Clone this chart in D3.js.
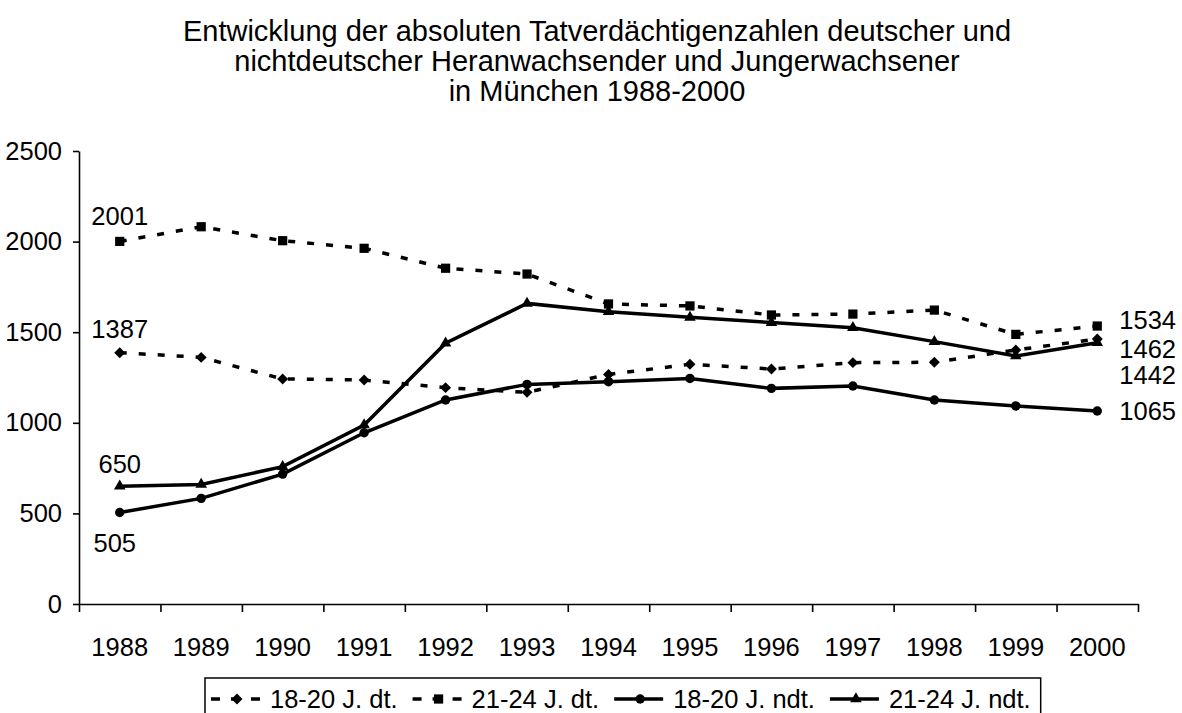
<!DOCTYPE html>
<html>
<head>
<meta charset="utf-8">
<script src="https://cdn.jsdelivr.net/npm/d3@7"></script>
<style>
    html, body { margin: 0; padding: 0; background: #ffffff; }
    svg { display: block; }
    text { font-family: "Liberation Sans", Arial, sans-serif; fill: #000000; }
</style>
</head>
<body>
<div id="chart"></div>
<script>
// Chart data
const titleLines = [
    'Entwicklung der absoluten Tatverdächtigenzahlen deutscher und',
    'nichtdeutscher Heranwachsender und Jungerwachsener',
    'in München 1988-2000'
];
const years = ['1988', '1989', '1990', '1991', '1992', '1993', '1994', '1995', '1996', '1997', '1998', '1999', '2000'];
const yTicks = [0, 500, 1000, 1500, 2000, 2500];
const seriesNames = ['18-20 J. dt.', '21-24 J. dt.', '18-20 J. ndt.', '21-24 J. ndt.'];
const dt1820 = [1387, 1361, 1242, 1236, 1194, 1168, 1267, 1323, 1297, 1332, 1334, 1402, 1462];
const dt2124 = [2001, 2082, 2005, 1963, 1853, 1821, 1656, 1645, 1595, 1600, 1622, 1488, 1534];
const ndt1820 = [505, 583, 717, 945, 1126, 1212, 1227, 1245, 1190, 1203, 1126, 1093, 1065];
const ndt2124 = [650, 660, 758, 988, 1439, 1659, 1613, 1582, 1553, 1525, 1448, 1369, 1442];

class ChartRenderer {
    static render(containerId) {
        const width = 1182;
        const height = 713;
        const plot = { left: 79, right: 1138, top: 151, bottom: 604 };
        const fontSize = 25.5;

        d3.select(`#${containerId}`).selectAll('*').remove();

        const svg = d3.select(`#${containerId}`)
            .append('svg')
            .attr('width', width)
            .attr('height', height);

        // Title
        svg.append('g')
            .selectAll('text')
            .data(titleLines)
            .enter()
            .append('text')
            .attr('x', 597)
            .attr('y', (d, i) => 41 + i * 30)
            .attr('text-anchor', 'middle')
            .attr('font-size', '29px')
            .text(d => d);

        const x = d3.scaleBand()
            .domain(years)
            .range([plot.left, plot.right]);

        const xTickScale = d3.scaleLinear()
            .domain([0, years.length])
            .range([plot.left, plot.right]);

        const y = d3.scaleLinear()
            .domain([0, 2500])
            .range([plot.bottom, plot.top]);

        const cx = d => x(d) + x.bandwidth() / 2;

        // Axes
        const yAxis = svg.append('g')
            .attr('transform', `translate(${plot.left},0)`)
            .call(d3.axisLeft(y).tickValues(yTicks).tickFormat(d3.format('d'))
                .tickSize(6).tickSizeOuter(0).tickPadding(11));
        yAxis.selectAll('text').attr('font-size', `${fontSize}px`).attr('fill', '#000');

        const xAxis = svg.append('g')
            .attr('transform', `translate(0,${plot.bottom})`)
            .call(d3.axisBottom(xTickScale).ticks(years.length).tickSize(8).tickSizeOuter(0).tickFormat(''));

        const xLabels = svg.append('g')
            .attr('transform', `translate(0,${plot.bottom})`)
            .call(d3.axisBottom(x).tickSize(0).tickPadding(34));
        xLabels.select('.domain').remove();
        xLabels.selectAll('text').attr('font-size', `${fontSize}px`).attr('fill', '#000');

        [yAxis, xAxis].forEach(a => {
            a.selectAll('path, line').attr('stroke', '#000').attr('stroke-width', 1.6);
        });

        const series = [
            { name: seriesNames[0], values: dt1820, dashed: true, symbol: 'diamond' },
            { name: seriesNames[1], values: dt2124, dashed: true, symbol: 'square' },
            { name: seriesNames[2], values: ndt1820, dashed: false, symbol: 'circle' },
            { name: seriesNames[3], values: ndt2124, dashed: false, symbol: 'triangle' }
        ];

        const symbolPath = {
            diamond: d3.symbol().type(d3.symbolSquare).size(60)(),
            square: d3.symbol().type(d3.symbolSquare).size(85)(),
            circle: d3.symbol().type(d3.symbolCircle).size(70)(),
            triangle: d3.symbol().type(d3.symbolTriangle).size(58)()
        };
        const symbolRotate = { diamond: 45, square: 0, circle: 0, triangle: 0 };

        const line = d3.line()
            .x((d, i) => cx(years[i]))
            .y(d => y(d));

        const drawn = svg.append('g');
        series.slice().reverse().forEach(s => {
            drawn.append('path')
                .datum(s.values)
                .attr('fill', 'none')
                .attr('stroke', '#000')
                .attr('stroke-width', 3.5)
                .attr('stroke-dasharray', s.dashed ? '7,12' : null)
                .attr('d', line);

            drawn.selectAll(null)
                .data(s.values)
                .enter()
                .append('path')
                .attr('d', symbolPath[s.symbol])
                .attr('transform', (d, i) => `translate(${cx(years[i])},${y(d)}) rotate(${symbolRotate[s.symbol]})`)
                .attr('fill', '#000');
        });

        // Data labels at first and last year
        const lastIdx = years.length - 1;
        const labelOffsets = [
            { si: 1, idx: 0, dx: 0, dy: -16, anchor: 'middle' },
            { si: 0, idx: 0, dx: 0, dy: -15, anchor: 'middle' },
            { si: 3, idx: 0, dx: 0, dy: -13, anchor: 'middle' },
            { si: 2, idx: 0, dx: -5, dy: 40, anchor: 'middle' },
            { si: 1, idx: lastIdx, dx: 22, dy: 3, anchor: 'start' },
            { si: 0, idx: lastIdx, dx: 22, dy: 19, anchor: 'start' },
            { si: 3, idx: lastIdx, dx: 22, dy: 41, anchor: 'start' },
            { si: 2, idx: lastIdx, dx: 22, dy: 9, anchor: 'start' }
        ];
        svg.append('g')
            .selectAll('text')
            .data(labelOffsets)
            .enter()
            .append('text')
            .attr('x', d => cx(years[d.idx]) + d.dx)
            .attr('y', d => y(series[d.si].values[d.idx]) + d.dy)
            .attr('text-anchor', d => d.anchor)
            .attr('font-size', `${fontSize}px`)
            .text(d => series[d.si].values[d.idx]);

        // Legend
        const legend = svg.append('g');
        const legendLeft = 205;
        const legendTop = 678;
        const baseline = 708;
        let cursor = 211;
        series.forEach(s => {
            const item = legend.append('g').attr('transform', `translate(${cursor},0)`);
            item.append('line')
                .attr('x1', 0).attr('x2', 49)
                .attr('y1', baseline - 9).attr('y2', baseline - 9)
                .attr('stroke', '#000')
                .attr('stroke-width', 3.5)
                .attr('stroke-dasharray', s.dashed ? '9,11' : null);
            item.append('path')
                .attr('d', symbolPath[s.symbol])
                .attr('transform', `translate(26,${baseline - 9}) rotate(${symbolRotate[s.symbol]})`)
                .attr('fill', '#000');
            const t = item.append('text')
                .attr('x', 59)
                .attr('y', baseline)
                .attr('font-size', `${fontSize}px`)
                .text(s.name);
            cursor += 59 + t.node().getComputedTextLength() + 15;
        });
        legend.insert('rect', ':first-child')
            .attr('x', legendLeft)
            .attr('y', legendTop)
            .attr('width', cursor - 5 - legendLeft)
            .attr('height', 60)
            .attr('fill', 'none')
            .attr('stroke', '#000')
            .attr('stroke-width', 1.5);
    }
}

ChartRenderer.render('chart');
</script>
</body>
</html>
